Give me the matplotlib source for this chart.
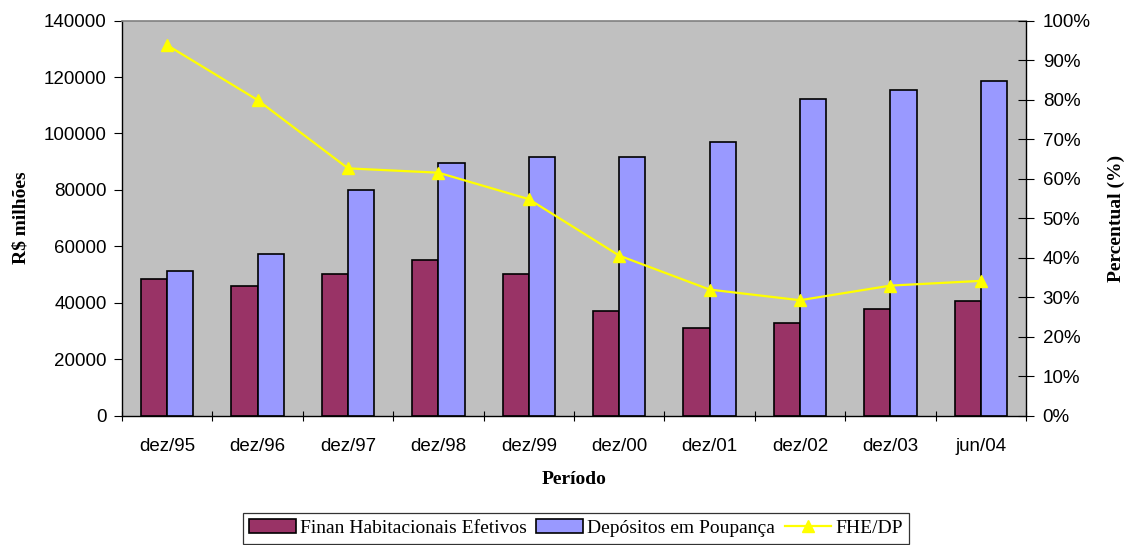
import matplotlib
matplotlib.use("Agg")
import matplotlib.pyplot as plt
import numpy as np
from matplotlib.patches import Patch
from matplotlib.lines import Line2D
from matplotlib.ticker import FuncFormatter

periodos = ["dez/95", "dez/96", "dez/97", "dez/98", "dez/99",
            "dez/00", "dez/01", "dez/02", "dez/03", "jun/04"]
financiamentos = [48300, 46000, 50300, 55100, 50200, 37200, 31000, 32800, 37700, 40600]
depositos = [51300, 57300, 80000, 89500, 91500, 91500, 97000, 112200, 115300, 118600]
fhe_dp = [93.8, 79.9, 62.6, 61.5, 54.8, 40.5, 31.9, 29.2, 32.9, 34.1]

sans = "Liberation Sans"
serif = "Liberation Serif"
tick_fs = 13.5
label_fs = 14

fig = plt.figure(figsize=(11.27, 5.45), dpi=100)
ax = fig.add_axes([122 / 1127, 1 - 415.5 / 545, 904 / 1127, 394.8 / 545])
ax.set_facecolor("#C0C0C0")

x = np.arange(len(periodos))
w = 0.29
ax.bar(x - w / 2, financiamentos, width=w, color="#993366", edgecolor="black",
       linewidth=1.2, zorder=2)
ax.bar(x + w / 2, depositos, width=w, color="#9999FF", edgecolor="black",
       linewidth=1.2, zorder=2)

ax.set_xlim(-0.5, len(periodos) - 0.5)
ax.set_ylim(0, 140000)
ax.set_yticks(np.arange(0, 140001, 20000))
ax.set_xticks(x)
ax.set_xticklabels(periodos, fontfamily=sans, fontsize=tick_fs)
ax.set_xticks(np.arange(-0.5, len(periodos), 1.0), minor=True)
ax.tick_params(axis="x", which="major", length=0, pad=16)
ax.tick_params(axis="x", which="minor", length=7, direction="inout", width=0.8)
ax.tick_params(axis="y", length=6, direction="out", width=0.8, labelsize=tick_fs, pad=5)
for lbl in ax.get_yticklabels():
    lbl.set_fontfamily(sans)

ax.spines["top"].set_color("#808080")
ax.spines["top"].set_linewidth(1.2)
ax.spines["left"].set_linewidth(1.0)
ax.spines["bottom"].set_linewidth(1.0)
ax.spines["right"].set_visible(False)

ax.set_ylabel("R$ milhões", fontfamily=serif, fontweight="bold", fontsize=label_fs, labelpad=10)
ax.set_xlabel("Período", fontfamily=serif, fontweight="bold", fontsize=label_fs, labelpad=12)

ax2 = ax.twinx()
ax2.plot(x, fhe_dp, color="#FFFF00", linewidth=1.6, marker="^", markersize=8,
         markerfacecolor="#FFFF00", markeredgecolor="#FFFF00", zorder=3)
ax2.set_ylim(0, 100)
ax2.set_yticks(np.arange(0, 101, 10))
ax2.yaxis.set_major_formatter(FuncFormatter(lambda v, p: f"{int(round(v))}%"))
ax2.tick_params(axis="y", length=12, direction="inout", width=0.8, labelsize=tick_fs, pad=6)
for lbl in ax2.get_yticklabels():
    lbl.set_fontfamily(sans)
ax2.spines["right"].set_linewidth(1.0)
ax2.spines["top"].set_visible(False)
ax2.spines["left"].set_visible(False)
ax2.spines["bottom"].set_visible(False)
ax2.set_ylabel("Percentual (%)", fontfamily=serif, fontweight="bold", fontsize=label_fs,
               labelpad=12)

handles = [
    Patch(facecolor="#993366", edgecolor="black", linewidth=1.2),
    Patch(facecolor="#9999FF", edgecolor="black", linewidth=1.2),
    Line2D([], [], color="#FFFF00", linewidth=1.6, marker="^", markersize=8),
]
labels = ["Finan Habitacionais Efetivos", "Depósitos em Poupança", "FHE/DP"]
leg = fig.legend(handles, labels, loc="lower center", bbox_to_anchor=(576 / 1127, 0.002),
                 ncol=3, frameon=True, fancybox=False, edgecolor="black",
                 prop={"family": serif, "size": label_fs}, handlelength=2.4,
                 handletextpad=0.2, columnspacing=0.5, borderpad=0.35, borderaxespad=0)
leg.get_frame().set_linewidth(0.9)

fig.savefig("out.png", dpi=100)
